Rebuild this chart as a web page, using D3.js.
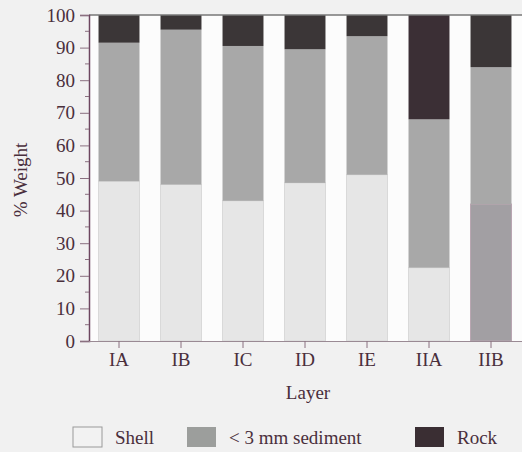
<!DOCTYPE html>
<html><head><meta charset="utf-8">
<script src="https://cdn.jsdelivr.net/npm/d3@7"></script>
<style>body{margin:0;background:#f1f1f1;}svg{display:block;} text{font-family:"Liberation Serif","Times New Roman",serif;}</style>
</head><body><svg id="c" width="522" height="452"></svg>
<script>
const layers = ["IA","IB","IC","ID","IE","IIA","IIB"];
const shell = [49, 48, 43, 48.5, 51, 22.5, 42];
const sediment = [42.5, 47.5, 47.5, 41, 42.5, 45.5, 42];
const rock = [8.5, 4.5, 9.5, 10.5, 6.5, 32, 16];
const yTicks = [0,10,20,30,40,50,60,70,80,90,100];
const seriesNames = ["Shell","< 3 mm sediment","Rock"];
const seriesColors = ["#e6e6e6","#a8a8a8","#3b3637"];

const svg = d3.select("#c");
const font = '"Liberation Serif","Times New Roman",serif';
const fs = 19;
const textCol = "#4a2f3c";
const x = d3.scaleBand().domain(layers).range([88,522]).paddingInner(0.34).paddingOuter(0.17);
const y = d3.scaleLinear().domain([0,100]).range([341,15]);

const g = svg.append("g");
layers.forEach((l,i)=>{
  const x0 = i===0 ? 89 : x(layers[i-1]) + x.bandwidth();
  g.append("rect").attr("x",x0).attr("y",y(100)).attr("width",x(l)-x0).attr("height",y(0)-y(100)).attr("fill","#fcfcfc");
});
g.append("rect").attr("x",x("IIB")+x.bandwidth()).attr("y",y(100)).attr("width",522-x("IIB")-x.bandwidth()).attr("height",y(0)-y(100)).attr("fill","#fcfcfc");

const data = layers.map((l,i)=>({layer:l, Shell:shell[i], "< 3 mm sediment":sediment[i], Rock:rock[i]}));
const stack = d3.stack().keys(seriesNames)(data);
stack.forEach((s,si)=>{
  svg.append("g").selectAll("rect").data(s).join("rect")
    .attr("x",d=>x(d.data.layer))
    .attr("y",d=>y(d[1]))
    .attr("width",x.bandwidth())
    .attr("height",d=>y(d[0])-y(d[1]))
    .attr("fill",d=> (si===0 && d.data.layer==="IIB") ? "#a29fa3" : (si===2 && d.data.layer==="IIA") ? "#3b2f35" : seriesColors[si])
    .attr("stroke",d=> (si===0 && d.data.layer==="IIB") ? "#b8a4b0" : (si===0 ? "#d8d8d8" : "none"))
    .attr("stroke-width",1);
});
svg.append("line").attr("x1",89).attr("x2",522).attr("y1",y(100)).attr("y2",y(100)).attr("stroke","#777").attr("stroke-width",1.5);

const ya = svg.append("g").attr("transform","translate(89,0)")
  .call(d3.axisLeft(y).tickValues(yTicks).tickSize(9).tickPadding(5));
ya.attr("font-family",null).attr("font-size",null);
ya.select(".domain").attr("stroke","#6d4660").attr("stroke-width",1.5);
ya.selectAll(".tick line").attr("stroke","#8a7080");
ya.selectAll("text").style("font-family",font).style("font-size",fs+"px").attr("fill",textCol);
svg.append("g").selectAll("line").data(d3.range(5,100,10)).join("line")
  .attr("x1",89).attr("x2",85).attr("y1",d=>y(d)).attr("y2",d=>y(d)).attr("stroke","#8a7080");

svg.append("line").attr("x1",89).attr("x2",522).attr("y1",y(0)+0.5).attr("y2",y(0)+0.5).attr("stroke","#9a8a94").attr("stroke-width",1);
const xa = svg.append("g").attr("transform",`translate(0,${y(0)})`)
  .call(d3.axisBottom(x).tickSize(7).tickPadding(5));
xa.attr("font-family",null).attr("font-size",null);
xa.select(".domain").remove();
xa.selectAll(".tick line").attr("stroke","#8a7080");
xa.selectAll("text").style("font-family",font).style("font-size",fs+"px").attr("fill",textCol);

svg.append("text").attr("x",308).attr("y",399).attr("text-anchor","middle")
  .style("font-size",fs+"px").attr("fill",textCol).text("Layer");
svg.append("text").attr("transform","translate(27,180) rotate(-90)").attr("text-anchor","middle")
  .style("font-size",fs+"px").attr("fill",textCol).text("% Weight");

const legX = [73,187,415];
const legColors = ["#f2f2f2","#9c9e9c","#3a2e33"];
seriesNames.forEach((n,i)=>{
  svg.append("rect").attr("x",legX[i]).attr("y",427).attr("width",29).attr("height",20)
    .attr("fill",legColors[i]).attr("stroke",i===0?"#9a9a9a":"none");
  svg.append("text").attr("x",legX[i]+42).attr("y",444)
    .style("font-size",fs+"px").attr("fill",textCol).text(n);
});
</script></body></html>
